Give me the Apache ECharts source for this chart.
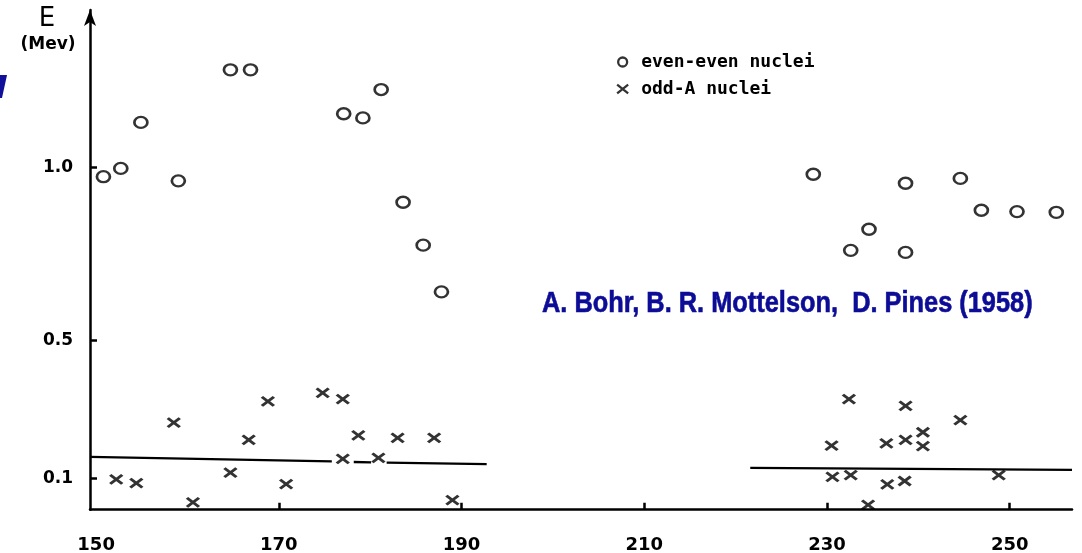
<!DOCTYPE html>
<html>
<head>
<meta charset="utf-8">
<script src="https://cdn.jsdelivr.net/npm/echarts@6/dist/echarts.min.js"></script>
<style>
html,body{margin:0;padding:0;background:#fff;}
#chart{width:1082px;height:553px;}
</style>
</head>
<body>
<div id="chart"></div>
<script>
// ---- data ----
const evenA = [150.8,152.7,154.9,159.0,164.7,166.9,177.1,179.2,181.2,183.6,185.8,187.8,228.5,232.6,234.6,238.6,238.6,244.6,246.9,250.8,255.1];
const evenE = [0.973,0.997,1.130,0.961,1.282,1.282,1.155,1.143,1.225,0.899,0.775,0.640,0.980,0.760,0.821,0.954,0.754,0.968,0.876,0.872,0.870];

const oddA = [152.2,154.4,158.5,160.6,164.7,166.7,168.8,170.8,174.8,177.0,178.7,183.0,187.0,177.0,180.9,189.0,
              232.4,238.6,244.6,230.5,236.5,238.6,240.5,240.5,230.6,232.6,236.6,238.5,248.8,234.5];
const oddE = [0.098,0.087,0.262,0.031,0.117,0.212,0.323,0.084,0.348,0.330,0.225,0.218,0.218,0.157,0.160,0.038,
              0.330,0.310,0.269,0.195,0.202,0.212,0.234,0.194,0.105,0.110,0.083,0.093,0.110,0.024];

// horizontal reference lines (segments separated by gaps)
const leftLineA = [149.33,175.8,null,178.2,180.1,null,181.8,192.75];
const leftLineE = [0.163,0.150,null,0.148,0.147,null,0.146,0.142];
const rightLineA = [221.6,256.82];
const rightLineE = [0.131,0.125];

const xTickValues = [170,190,210,230,250];
const xLabelValues = [150,170,190,210,230,250];
const yTickValues = [0.1,0.5,1.0];

const legendNames = ['even-even nuclei','odd-A nuclei'];
const yTitle = 'E';
const yUnit = '(Mev)';
const creditText = 'A. Bohr, B. R. Mottelson,  D. Pines (1958)';

// ---- build ----
const zip = (a, b) => a.map((v, i) => (v === null ? ['-', '-'] : [v, b[i]]));
const crossPath = 'path://M0,0L10,8M10,0L0,8';

const chart = echarts.init(document.getElementById('chart'), null, {renderer: 'canvas'});
const option = {
  animation: false,
  backgroundColor: '#fff',
  grid: {left: 90, right: 10, top: 10, bottom: 43.3, containLabel: false, outerBoundsMode: 'none'},
  xAxis: {
    type: 'value', min: 149.33, max: 256.82,
    splitLine: {show: false},
    axisLine: {show: true, lineStyle: {color: '#000', width: 2.5}},
    axisTick: {show: true, inside: true, length: 7, customValues: xTickValues, lineStyle: {color: '#000', width: 2.5}},
    axisLabel: {customValues: xLabelValues, margin: 27, color: '#000', fontFamily: 'DejaVu Sans', fontWeight: 'bold', fontSize: 18}
  },
  yAxis: {
    type: 'value', min: 0.01, max: 1.455,
    splitLine: {show: false},
    axisLine: {show: true, onZero: false, symbol: ['none', 'arrow'], symbolSize: [9, 16], symbolOffset: [0, 0],
      lineStyle: {color: '#000', width: 2.5}},
    axisTick: {show: true, inside: true, length: 7, customValues: yTickValues, lineStyle: {color: '#000', width: 2.5}},
    axisLabel: {customValues: yTickValues, margin: 17, color: '#000', fontFamily: 'DejaVu Sans', fontWeight: 'bold', fontSize: 17,
      formatter: v => v.toFixed(1)}
  },
  legend: {
    orient: 'vertical', left: 616, top: 53, padding: 0, itemGap: 9,
    itemWidth: 11, itemHeight: 9,
    selectedMode: false,
    itemStyle: {borderWidth: 2.3},
    textStyle: {color: '#000', fontFamily: 'DejaVu Sans Mono', fontWeight: 'bold', fontSize: 18, lineHeight: 18, padding: [0, 0, 0, 8]},
    data: [
      {name: legendNames[0], icon: 'circle'},
      {name: legendNames[1], icon: crossPath}
    ]
  },
  series: [
    {
      name: legendNames[0], type: 'scatter', data: zip(evenA, evenE),
      symbol: 'circle', symbolSize: [13, 11],
      itemStyle: {color: '#fff', borderColor: '#000', borderWidth: 2.5},
      emphasis: {disabled: true}, z: 5
    },
    {
      name: legendNames[1], type: 'scatter', data: zip(oddA, oddE),
      symbol: crossPath, symbolSize: [12, 9],
      itemStyle: {color: '#000', borderColor: '#000', borderWidth: 2.9},
      emphasis: {disabled: true}, z: 5
    },
    {
      type: 'line', data: zip(leftLineA, leftLineE), symbol: 'none', connectNulls: false,
      lineStyle: {color: '#000', width: 2.3}, emphasis: {disabled: true}, silent: true
    },
    {
      type: 'line', data: zip(rightLineA, rightLineE), symbol: 'none',
      lineStyle: {color: '#000', width: 2.3}, emphasis: {disabled: true}, silent: true
    }
  ],
  graphic: [
    {type: 'text', x: 47, y: 19, style: {text: yTitle, fill: '#000', font: '26px "DejaVu Sans"', align: 'center', verticalAlign: 'middle'}},
    {type: 'text', x: 48, y: 45, style: {text: yUnit, fill: '#000', font: 'bold 17px "DejaVu Sans"', align: 'center', verticalAlign: 'middle'}},
    {type: 'text', x: 542, y: 304, scaleX: 0.875,
      style: {text: creditText, fill: '#0c0c96', stroke: '#0c0c96', lineWidth: 0.6, font: 'bold 29px "Liberation Sans"', align: 'left', verticalAlign: 'middle'}},
    {type: 'polygon', shape: {points: [[0, 75], [7, 75], [2, 98], [0, 98]]}, style: {fill: '#10109a'}}
  ]
};
chart.setOption(option);
</script>
</body>
</html>
